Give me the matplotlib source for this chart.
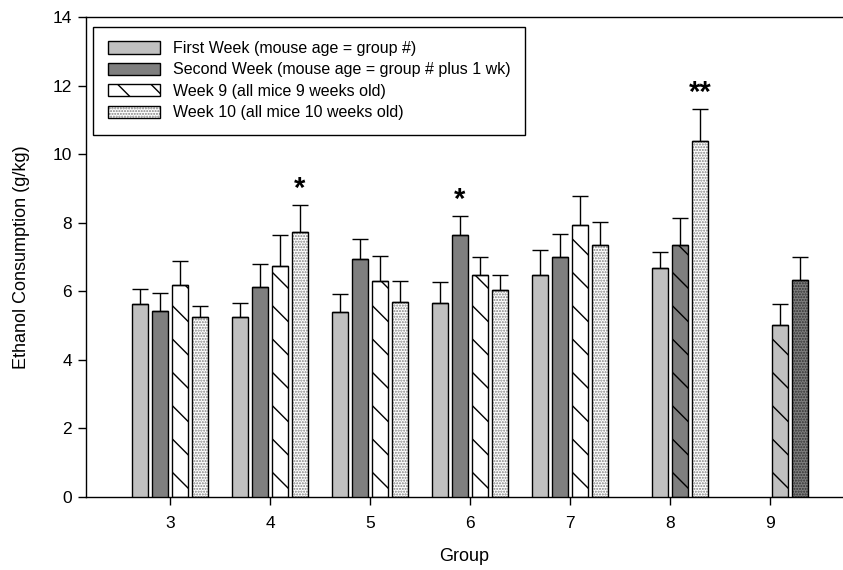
import matplotlib
matplotlib.use("Agg")
import matplotlib.pyplot as plt
from matplotlib.patches import Patch
from matplotlib.legend_handler import HandlerTuple

plt.rcParams['font.family'] = ['Liberation Sans', 'DejaVu Sans']
plt.rcParams['hatch.linewidth'] = 1.0

groups = [3, 4, 5, 6, 7, 8, 9]
series_names = ["First Week (mouse age = group #)",
                "Second Week (mouse age = group # plus 1 wk)",
                "Week 9 (all mice 9 weeks old)",
                "Week 10 (all mice 10 weeks old)"]

# values per group (bars drawn in order), upper error bar length
first_week  = [5.62, 5.25, 5.40, 5.67, 6.49, 6.68, None]
first_err   = [0.44, 0.41, 0.51, 0.59, 0.72, 0.46, None]
second_week = [5.44, 6.12, 6.94, 7.64, 7.00, 7.34, None]
second_err  = [0.52, 0.68, 0.58, 0.57, 0.66, 0.79, None]
week9       = [6.18, 6.74, 6.30, 6.49, 7.94, None, 5.01]
week9_err   = [0.70, 0.91, 0.72, 0.51, 0.84, None, 0.61]
week10      = [5.25, 7.72, 5.69, 6.05, 7.36, 10.39, 6.32]
week10_err  = [0.33, 0.80, 0.60, 0.44, 0.67, 0.93, 0.68]

# group 8: second week coincides with week 9 (dark gray, hatched)
# group 9: first week = week 9 (light hatched), second week = week 10 (dark dotted)

stars = {4: "*", 6: "*", 8: "**"}

LIGHT = "#c0c0c0"
DARK = "#7f7f7f"
DOT = "#808080"
W = 0.16

fig = plt.figure(figsize=(8.43, 5.7), dpi=100)
ax = fig.add_axes([0.102, 0.128, 0.898, 0.842])


def draw_bar(x, h, e, face, hatch=None, hatchcol="black"):
    if hatch:
        ax.bar(x, h, W, color=face, edgecolor=hatchcol, hatch=hatch, linewidth=0, zorder=2)
        ax.bar(x, h, W, facecolor="none", edgecolor="black", linewidth=1.0, zorder=3)
    else:
        ax.bar(x, h, W, color=face, edgecolor="black", linewidth=1.0, zorder=3)
    ax.errorbar(x, h, yerr=[[0], [e]], fmt="none", ecolor="black",
                elinewidth=1.0, capsize=5.5, capthick=1.0, zorder=4)


for i, g in enumerate(groups):
    if g <= 7:
        draw_bar(g - 0.3, first_week[i], first_err[i], LIGHT)
        draw_bar(g - 0.1, second_week[i], second_err[i], DARK)
        draw_bar(g + 0.1, week9[i], week9_err[i], "white", hatch="\\")
        draw_bar(g + 0.3, week10[i], week10_err[i], "white", hatch="......", hatchcol=DOT)
    elif g == 8:
        draw_bar(g - 0.1, first_week[i], first_err[i], LIGHT)
        draw_bar(g + 0.1, second_week[i], second_err[i], DARK, hatch="\\")
        draw_bar(g + 0.3, week10[i], week10_err[i], "white", hatch="......", hatchcol=DOT)
    else:
        draw_bar(g + 0.1, week9[i], week9_err[i], LIGHT, hatch="\\")
        draw_bar(g + 0.3, week10[i], week10_err[i], DARK, hatch="......", hatchcol="#303030")

for i, g in enumerate(groups):
    if g in stars:
        off = 0.3 if g in (4, 8) else -0.1
        vals = {4: week10[i] + week10_err[i], 6: second_week[i] + second_err[i],
                8: week10[i] + week10_err[i]}[g]
        ax.text(g + off, vals + 0.05, stars[g], ha="center", va="bottom",
                fontsize=21, fontweight="bold")

ax.set_xlim(2.16, 9.73)
ax.set_ylim(0, 14)
ax.set_xticks(groups)
ax.set_yticks(range(0, 15, 2))
ax.tick_params(direction="out", length=6, width=1, labelsize=12.5, pad=8)
ax.tick_params(axis="y", pad=4)
ax.spines["right"].set_visible(False)
for s in ("left", "bottom", "top"):
    ax.spines[s].set_linewidth(1.0)
ax.set_xlabel("Group", fontsize=13, labelpad=12)
ax.set_ylabel("Ethanol Consumption (g/kg)", fontsize=13, labelpad=16)

h1 = Patch(facecolor=LIGHT, edgecolor="black", linewidth=1)
h2 = Patch(facecolor=DARK, edgecolor="black", linewidth=1)
h3 = Patch(facecolor="white", edgecolor="black", hatch="\\", linewidth=1)
h4a = Patch(facecolor="white", edgecolor=DOT, hatch="......", linewidth=0)
h4b = Patch(facecolor="none", edgecolor="black", linewidth=1)
leg = ax.legend([h1, h2, h3, (h4a, h4b)], series_names,
                handler_map={tuple: HandlerTuple(ndivide=1, pad=0)},
                loc="upper left", bbox_to_anchor=(0.0096, 0.980),
                fontsize=11.5, frameon=True, fancybox=False, framealpha=1,
                edgecolor="black", handlelength=3.3, handleheight=0.8,
                labelspacing=0.4, handletextpad=0.8, borderpad=0.9,
                borderaxespad=0)
leg.get_frame().set_linewidth(1.0)
leg.set_zorder(10)

fig.savefig("out.png", dpi=100)
